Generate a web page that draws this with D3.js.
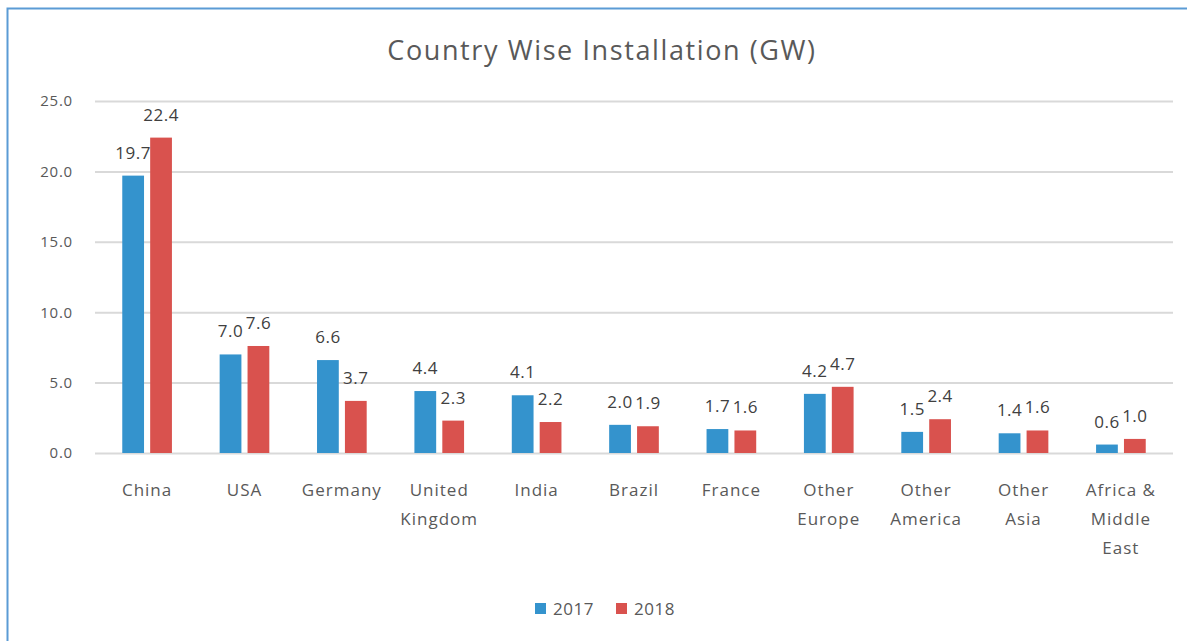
<!DOCTYPE html>
<html>
<head>
<meta charset="utf-8">
<script src="https://cdn.jsdelivr.net/npm/d3@7"></script>
<style>
  body { margin: 0; background: #fff; }
  svg { display: block; font-family: "Open Sans", sans-serif; }
</style>
</head>
<body>
<svg id="canvas" width="1187" height="641"></svg>
<script>
let categories = ["China", "USA", "Germany", "United Kingdom", "India", "Brazil", "France",
  "Other Europe", "Other America", "Other Asia", "Africa & Middle East"]
let categoryLines = [["China"], ["USA"], ["Germany"], ["United", "Kingdom"], ["India"], ["Brazil"],
  ["France"], ["Other", "Europe"], ["Other", "America"], ["Other", "Asia"], ["Africa &", "Middle", "East"]]
let seriesNames = ["2017", "2018"]
let values2017 = [19.7, 7.0, 6.6, 4.4, 4.1, 2.0, 1.7, 4.2, 1.5, 1.4, 0.6]
let values2018 = [22.4, 7.6, 3.7, 2.3, 2.2, 1.9, 1.6, 4.7, 2.4, 1.6, 1.0]
let yTicks = [0, 5, 10, 15, 20, 25]

let colors = {"2017": "#3493cd", "2018": "#d9524e"}

let canvas = d3.select("#canvas")

// outer frame (cut off on right and bottom like the original)
canvas.append("rect")
    .attr("x", 7.5).attr("y", 8.5)
    .attr("width", 1300).attr("height", 800)
    .attr("fill", "none")
    .attr("stroke", "#5b9bd5")
    .attr("stroke-width", 2)

canvas.append("text")
    .attr("x", 602).attr("y", 60)
    .attr("text-anchor", "middle")
    .attr("fill", "#595959")
    .style("font-size", "27px")
    .style("letter-spacing", "1.6px")
    .text("Country Wise Installation (GW)")

let x0 = d3.scaleBand()
    .domain(categories)
    .range([95, 1173])
    .paddingInner(0.49)
    .paddingOuter(0.28)

let x1 = d3.scaleBand()
    .domain(seriesNames)
    .range([0, x0.bandwidth()])
    .paddingInner(0.22)

let y = d3.scaleLinear()
    .domain([0, 25])
    .range([453, 101])

// gridlines + y labels
let yAxis = d3.axisLeft(y)
    .tickValues(yTicks)
    .tickFormat(d3.format(".1f"))
    .tickSize(-(1173 - 95))
    .tickPadding(22)

let gy = canvas.append("g")
    .attr("transform", "translate(95,0)")
    .call(yAxis)
gy.select(".domain").remove()
gy.selectAll(".tick line")
    .attr("stroke", "#d9d9d9")
    .attr("stroke-width", 2)
gy.selectAll(".tick text")
    .attr("fill", "#595959")
    .style("font-size", "15px")
    .style("letter-spacing", "0.8px")
    .style("font-family", "'Open Sans', sans-serif")

let rows = categories.map((c, i) => ({
    cat: c,
    lines: categoryLines[i],
    vals: [{key: "2017", v: values2017[i]}, {key: "2018", v: values2018[i]}]
}))

let groups = canvas.append("g")
    .selectAll("g")
    .data(rows)
    .enter()
    .append("g")
    .attr("transform", (d) => "translate(" + x0(d.cat) + ",0)")

groups.selectAll("rect")
    .data((d) => d.vals)
    .enter()
    .append("rect")
    .attr("x", (d) => x1(d.key))
    .attr("y", (d) => y(d.v))
    .attr("width", x1.bandwidth())
    .attr("height", (d) => y(0) - y(d.v))
    .attr("fill", (d) => colors[d.key])

groups.selectAll("text.lbl")
    .data((d) => d.vals)
    .enter()
    .append("text")
    .attr("class", "lbl")
    .attr("x", (d) => x1(d.key) + x1.bandwidth() / 2)
    .attr("y", (d) => y(d.v) - 17)
    .attr("text-anchor", "middle")
    .attr("fill", "#404040")
    .style("font-size", "17px")
    .style("letter-spacing", "0.5px")
    .text((d) => d3.format(".1f")(d.v))

// category labels
let xlab = canvas.append("g")
    .selectAll("text")
    .data(rows)
    .enter()
    .append("text")
    .attr("text-anchor", "middle")
    .attr("fill", "#595959")
    .style("font-size", "17px")
    .style("letter-spacing", "1px")
    .attr("x", (d) => x0(d.cat) + x0.bandwidth() / 2)
    .attr("y", 496)

xlab.selectAll("tspan")
    .data((d) => d.lines)
    .enter()
    .append("tspan")
    .attr("x", function () { return d3.select(this.parentNode).attr("x") })
    .attr("dy", (d, i) => i === 0 ? 0 : 29)
    .text((d) => d)

// legend
let legend = canvas.append("g")
    .attr("transform", "translate(535,603)")
let legendX = d3.scaleOrdinal().domain(seriesNames).range([0, 81])

let items = legend.selectAll("g")
    .data(seriesNames)
    .enter()
    .append("g")
    .attr("transform", (d) => "translate(" + legendX(d) + ",0)")
items.append("rect")
    .attr("width", 11).attr("height", 11)
    .attr("fill", (d) => colors[d])
items.append("text")
    .attr("x", 18).attr("y", 12)
    .attr("fill", "#595959")
    .style("font-size", "17px")
    .style("letter-spacing", "0.5px")
    .text((d) => d)
</script>
</body>
</html>
